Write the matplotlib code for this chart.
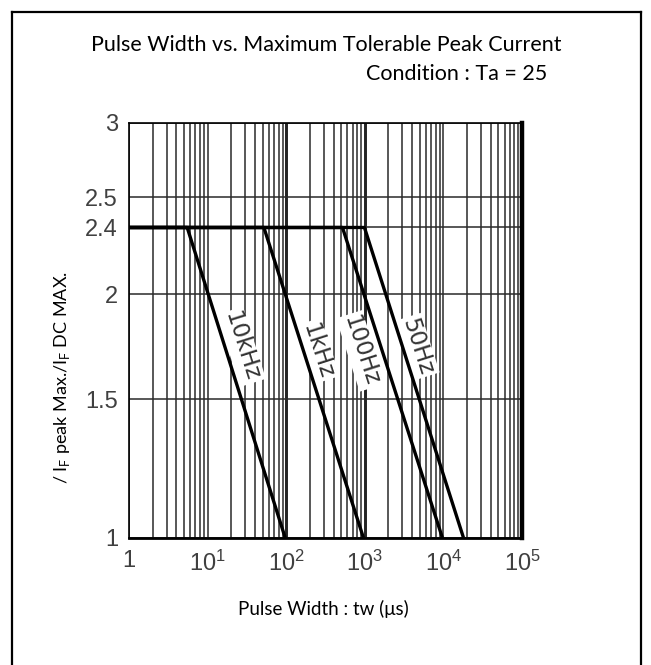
import numpy as np
import matplotlib
matplotlib.use("Agg")
import matplotlib.pyplot as plt
from matplotlib.lines import Line2D
from matplotlib.ticker import FixedLocator, NullFormatter

# ---------------------------------------------------------------
# Data
# ---------------------------------------------------------------
freqs = ["10kHz", "1kHz", "100Hz", "50Hz"]
knee_tw = [5.5, 52, 520, 990]        # pulse width where curve leaves 2.4
end_tw = [97, 960, 9700, 18000]      # pulse width where ratio hits 1
ratio_max = 2.4
ratio_min = 1.0
label_tw = [27, 250, 890, 4650]
label_ratio = [1.75, 1.73, 1.73, 1.75]

x_ticks = [1, 1e1, 1e2, 1e3, 1e4, 1e5]
x_ticklabels = ["1", r"$\mathregular{10^1}$", r"$\mathregular{10^2}$",
                r"$\mathregular{10^3}$", r"$\mathregular{10^4}$",
                r"$\mathregular{10^5}$"]
y_ticks = [1, 1.5, 2, 2.4, 2.5, 3]
y_ticklabels = ["1", "1.5", "2", "2.4", "2.5", "3"]
# the printed chart's y axis is not a clean log axis, calibrate it
y_axis_frac = [0.0, 0.3335, 0.587, 0.7475, 0.820, 1.0]

# ---------------------------------------------------------------
# Figure
# ---------------------------------------------------------------
W, H = 651, 665
fig = plt.figure(figsize=(W / 100, H / 100), dpi=100)
fig.patch.set_facecolor("white")
plt.rcParams["mathtext.fontset"] = "custom"
plt.rcParams["mathtext.rm"] = "Liberation Sans"

# outer frame (open at the bottom)
fr = dict(color="black", lw=1.6, transform=fig.transFigure)
fig.add_artist(Line2D([12 / W, 12 / W], [0, 1 - 12 / H], **fr))
fig.add_artist(Line2D([641 / W, 641 / W], [0, 1 - 12 / H], **fr))
fig.add_artist(Line2D([12 / W, 641 / W], [1 - 12 / H, 1 - 12 / H], **fr))

ax = fig.add_axes([129 / W, (H - 537.7) / H, (522 - 129) / W, 415 / H])


def fwd(v):
    return np.interp(v, y_ticks, y_axis_frac)


def inv(f):
    return np.interp(f, y_axis_frac, y_ticks)


ax.set_xscale("log")
ax.set_yscale("function", functions=(fwd, inv))
ax.set_xlim(1, 1e5)
ax.set_ylim(1, 3)

tick_font = ["Liberation Sans", "DejaVu Sans"]
ax.xaxis.set_major_locator(FixedLocator(x_ticks))
ax.set_xticklabels(x_ticklabels, family=tick_font, fontsize=17, color="#404040")
minor = [m * 10 ** d for d in range(5) for m in range(2, 10)]
ax.xaxis.set_minor_locator(FixedLocator(minor))
ax.xaxis.set_minor_formatter(NullFormatter())
ax.yaxis.set_major_locator(FixedLocator(y_ticks))
ax.yaxis.set_minor_locator(FixedLocator([]))
ax.set_yticklabels(y_ticklabels, family=tick_font, fontsize=17, color="#404040")
ax.tick_params(which="both", length=0)
ax.tick_params(axis="x", pad=9)
ax.tick_params(axis="y", pad=8)

ax.grid(True, which="both", axis="x", color="#2a2a2a", lw=1.1)
ax.grid(True, which="major", axis="y", color="#2a2a2a", lw=1.1)
for d in [1e2, 1e3]:
    ax.axvline(d, color="#111111", lw=2.0, zorder=1)

for side, lw in [("left", 1.2), ("top", 1.2), ("bottom", 2.0), ("right", 3.2)]:
    ax.spines[side].set_linewidth(lw)
    ax.spines[side].set_color("black")

# curves (above the label boxes)
for i, f in enumerate(freqs):
    xs = [1, knee_tw[i], end_tw[i]]
    ys = [ratio_max, ratio_max, ratio_min]
    ax.plot(xs, ys, color="black", lw=2.4, zorder=5, solid_capstyle="butt")

# rotated labels along the slopes
for i, f in enumerate(freqs):
    p1 = ax.transData.transform((knee_tw[i], ratio_max))
    p2 = ax.transData.transform((end_tw[i], ratio_min))
    ang = np.degrees(np.arctan2(p2[1] - p1[1], p2[0] - p1[0]))
    ax.text(label_tw[i], label_ratio[i], f, rotation=ang,
            rotation_mode="anchor", ha="center", va="center",
            family=["DejaVu Sans"], fontsize=16.5, color="#333333", zorder=4,
            bbox=dict(facecolor="white", edgecolor="none", pad=1.5))

# titles and axis labels
title_font = ["Lato", "DejaVu Sans"]
fig.text(326 / W, 1 - 45 / H, "Pulse Width vs. Maximum Tolerable Peak Current",
         ha="center", va="center", family=title_font, fontsize=15.5)
fig.text(547 / W, 1 - 74 / H, "Condition : Ta = 25",
         ha="right", va="center", family=title_font, fontsize=15.5)
fig.text(323 / W, 1 - 609 / H, "Pulse Width : tw (\u03bcs)",
         ha="center", va="center", family=title_font, fontsize=13.5)
fig.text(62 / W, 1 - 377 / H,
         r"/ I$_\mathregular{F}$ peak Max./I$_\mathregular{F}$ DC MAX.",
         ha="center", va="center", rotation=90, family=title_font, fontsize=13)

fig.savefig("out.png", dpi=100, facecolor="white")
